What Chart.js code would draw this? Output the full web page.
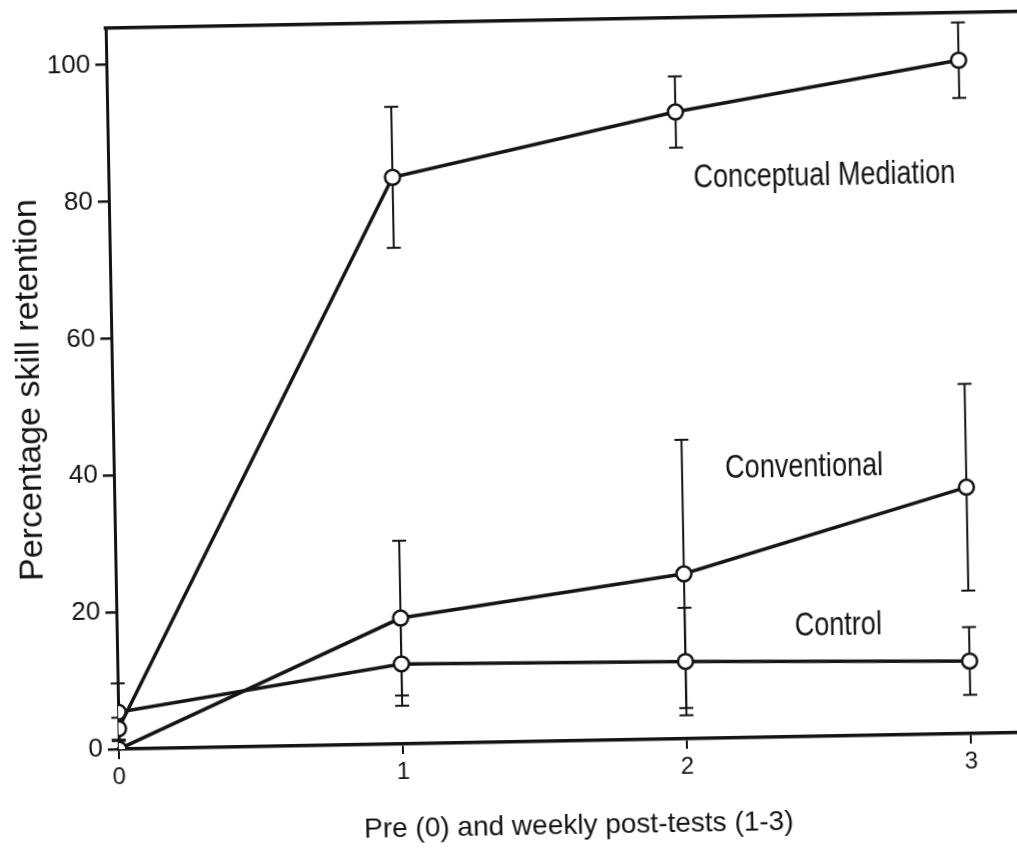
<!DOCTYPE html>
<html>
<head>
<meta charset="utf-8">
<script src="https://cdn.jsdelivr.net/npm/chart.js@4"></script>
<style>
  html, body { margin: 0; padding: 0; background: #ffffff; overflow: hidden; width: 1017px; height: 850px; }
  #c { position: absolute; left: 0; top: 0; width: 1040px; height: 850px;
       transform-origin: 508px 425px; transform: rotate(-1.05deg); }
</style>
</head>
<body>
<canvas id="c" width="1040" height="850"></canvas>
<script>
// ---- data ----
const weeks = [0, 1, 2, 3];
const xTickLabels = ['0', '1', '2', '3'];
const seriesNames = ['Conceptual Mediation', 'Conventional', 'Control'];
const conceptual = [3.0, 82.8, 91.6, 98.4];
const conceptualErr = [1.6, 10.3, 5.2, 5.5];
const conventional = [0, 18.4, 24.1, 36.0];
const conventionalErr = [0, 11.3, 19.6, 15.1];
const control = [5.4, 11.7, 11.3, 10.6];
const controlErr = [4.2, 6.1, 7.85, 4.95];
const yTicks = [0, 20, 40, 60, 80, 100];
// label anchor positions (data coordinates)
const labelX = [2.52, 2.43, 2.54];
const labelY = [81.9, 39.3, 16.1];

const INK = '#141414';
const REG = "'Liberation Sans', Arial, sans-serif";

function pts(vals) { return weeks.map((w, i) => ({ x: w, y: vals[i] })); }

const values = [conceptual, conventional, control];
const errors = [conceptualErr, conventionalErr, controlErr];

const datasets = values.map((v, k) => ({
  label: seriesNames[k],
  data: pts(v),
  borderColor: INK,
  borderWidth: 3.5,
  tension: 0,
  pointRadius: 7.5,
  pointBorderWidth: 2.5,
  pointBackgroundColor: '#ffffff',
  pointBorderColor: INK,
  errs: errors[k]
}));

const errorBars = {
  id: 'errorBars',
  beforeDatasetsDraw(chart) {
    const ctx = chart.ctx, ys = chart.scales.y;
    ctx.save();
    ctx.strokeStyle = INK;
    ctx.lineWidth = 2;
    chart.data.datasets.forEach((ds, k) => {
      const meta = chart.getDatasetMeta(k);
      meta.data.forEach((p, i) => {
        const e = ds.errs[i];
        if (!e) return;
        const v = ds.data[i].y;
        const yt = ys.getPixelForValue(v + e), yb = ys.getPixelForValue(v - e);
        ctx.beginPath();
        ctx.moveTo(p.x, yt); ctx.lineTo(p.x, yb);
        ctx.moveTo(p.x - 7, yt); ctx.lineTo(p.x + 7, yt);
        ctx.moveTo(p.x - 7, yb); ctx.lineTo(p.x + 7, yb);
        ctx.stroke();
      });
    });
    ctx.restore();
  }
};

const seriesLabels = {
  id: 'seriesLabels',
  afterDatasetsDraw(chart) {
    const ctx = chart.ctx, xs = chart.scales.x, ys = chart.scales.y;
    const squeeze = 0.82;
    seriesNames.forEach((n, k) => {
      ctx.save();
      ctx.fillStyle = INK;
      ctx.font = "33px " + REG;
      ctx.textAlign = 'center';
      ctx.textBaseline = 'middle';
      ctx.translate(xs.getPixelForValue(labelX[k]), ys.getPixelForValue(labelY[k]));
      ctx.scale(squeeze, 1);
      ctx.fillText(n, 0, 0);
      ctx.restore();
    });
  }
};

new Chart(document.getElementById('c'), {
  type: 'line',
  data: { datasets },
  options: {
    responsive: false,
    devicePixelRatio: 1,
    animation: false,
    layout: { padding: { left: 0, right: 7, top: 0, bottom: 0 } },
    plugins: { legend: { display: false }, tooltip: { enabled: false } },
    scales: {
      x: {
        type: 'linear', position: 'bottom', min: 0, max: 3.228,
        afterFit: s => { s.height = 108; },
        border: { display: true, color: INK, width: 3.5 },
        grid: { display: true, drawOnChartArea: false, drawTicks: true, tickLength: 10, color: INK, lineWidth: 2 },
        ticks: {
          stepSize: 1, includeBounds: false, padding: 4, color: INK, maxRotation: 0,
          font: { family: REG, size: 24 },
          callback: v => (Number.isInteger(v) && xTickLabels[v] !== undefined) ? xTickLabels[v] : ''
        },
        title: { display: true, text: 'Pre (0) and weekly post-tests (1-3)', color: INK,
                 font: { family: REG, size: 28 }, padding: { top: 0, bottom: 6 } }
      },
      xTop: {
        type: 'linear', position: 'top', min: 0, max: 3.228,
        afterFit: s => { s.height = 16.5; },
        border: { display: true, color: INK, width: 3.5 },
        grid: { display: false },
        ticks: { display: false }
      },
      y: {
        type: 'linear', position: 'left', min: 0, max: 105.4,
        afterFit: s => { s.width = 113; },
        border: { display: true, color: INK, width: 3 },
        grid: { display: true, drawOnChartArea: false, drawTicks: true, tickLength: 11, color: INK, lineWidth: 2.5 },
        ticks: {
          stepSize: 20, includeBounds: false, padding: 5, color: INK,
          font: { family: REG, size: 26 },
          callback: v => yTicks.includes(v) ? String(v) : ''
        },
        title: { display: true, text: 'Percentage skill retention', color: INK,
                 font: { family: REG, size: 34 }, padding: { top: 10, bottom: 0 } }
      }
    }
  },
  plugins: [errorBars, seriesLabels]
});
</script>
</body>
</html>
